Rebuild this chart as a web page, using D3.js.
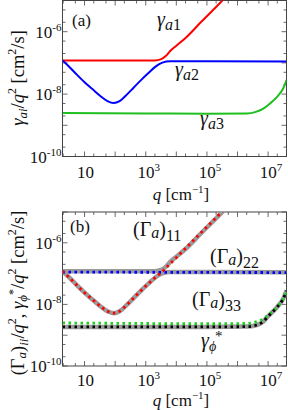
<html>
<head>
<style>
  body { margin: 0; background: #fff; }
  svg { display: block; }
  .frame { fill: none; stroke: #444; stroke-width: 1; }
  .tick { stroke: #444; stroke-width: 0.8; }
  .curve { fill: none; }
</style>
<script src="https://cdn.jsdelivr.net/npm/d3@7"></script>
</head>
<body>
<svg id="svg"></svg>
<script>
var width = 288, height = 410,
    left = 62.5, right = 286.5;

// q in cm^-1, gamma/q^2 in cm^2/s
var qA1 = [1.9, 100, 2000, 3200, 4500, 6300, 1e4, 2e4, 6.3e4, 3.2e5, 4e5];
var gA1 = [1.2e-7, 1.2e-7, 1.2e-7, 1.32e-7, 1.66e-7, 2.4e-7, 3.55e-7, 6.3e-7, 2.0e-6, 1.0e-5, 1.26e-5];

var qA2 = [1.9, 3.2, 5.6, 10, 18, 32, 56, 90, 140, 250, 400, 700, 1250, 2200, 3500, 6300, 1e5, 4e7];
var gA2 = [1.2e-7, 7.4e-8, 4.2e-8, 2.4e-8, 1.45e-8, 8.9e-9, 6.0e-9, 5.2e-9, 6.0e-9, 1.0e-8, 1.6e-8, 2.8e-8, 4.8e-8, 7.9e-8, 1.02e-7, 1.12e-7, 1.12e-7, 1.1e-7];

var qA3 = [1.9, 1000, 1e5, 2e6, 4e6, 7e6, 1.1e7, 2e7, 3.2e7, 4e7];
var gA3 = [2.5e-9, 2.4e-9, 2.35e-9, 2.4e-9, 2.7e-9, 3.4e-9, 4.8e-9, 8.3e-9, 1.6e-8, 2.8e-8];

var q11 = [1.9, 3.2, 5.6, 10, 18, 32, 56, 90, 140, 250, 400, 700, 1250, 2200, 3500, 6300, 1e4, 2e4, 6.3e4, 3.2e5, 4e5];
var G11 = [1.2e-7, 7.4e-8, 4.2e-8, 2.4e-8, 1.45e-8, 8.9e-9, 6.0e-9, 5.2e-9, 6.0e-9, 1.0e-8, 1.6e-8, 2.8e-8, 4.8e-8, 7.9e-8, 1.17e-7, 2.1e-7, 3.3e-7, 6.6e-7, 2.1e-6, 1.05e-5, 1.32e-5];

var q22 = [1.9, 1e4, 4e7];
var G22 = [1.12e-7, 1.1e-7, 1.08e-7];

var qPhi = [1.9, 1e5, 2e6, 4e6, 7e6, 1e7, 2e7, 3.2e7, 4e7];
var gPhi = [1.85e-9, 1.85e-9, 1.9e-9, 2.1e-9, 2.8e-9, 4.1e-9, 8.3e-9, 1.6e-8, 2.8e-8];

var xTicks = [10, 1e3, 1e5, 1e7];
var xTickExp = ["", "3", "5", "7"];
var yTicks = [1e-6, 1e-8, 1e-10];
var yTickExp = ["-6", "-8", "-10"];

var svg = d3.select("#svg").attr("width", width).attr("height", height);

var x = d3.scaleLog().domain([1.9, 4e7]).range([left, right]);

function zip(qs, gs) { return qs.map(function(q, i) { return [q, gs[i]]; }); }

// append a text built from pieces: [text, italic, size, dy]
function rich(g, px, py, parts, anchor, rotate) {
  var t = g.append("text").attr("x", px).attr("y", py)
    .style("font-family", "Liberation Serif")
    .attr("text-anchor", anchor || "start").attr("fill", "#111");
  if (rotate) t.attr("transform", "rotate(-90," + px + "," + py + ")");
  parts.forEach(function(p) {
    t.append("tspan").text(p[0])
      .style("font-family", "Liberation Serif")
      .style("font-style", p[1] ? "italic" : "normal")
      .style("font-size", p[2] + "px")
      .attr("dy", p[3] || 0);
  });
  return t;
}

function isMinor(v) {
  var m = Math.round(v / Math.pow(10, Math.floor(Math.log10(v) + 1e-9)));
  return m === 1 || m === 2 || m === 5;
}
function isMajor(v) {
  return Math.abs(Math.log10(v) - Math.round(Math.log10(v))) < 1e-6;
}

function drawPanel(id, top, bottom, tickBase, xlabBase) {
  var y = d3.scaleLog().domain([1e-10, 1e-5]).range([bottom, top]);
  var g = svg.append("g");

  g.append("clipPath").attr("id", "clip" + id)
    .append("rect").attr("x", left).attr("y", top)
    .attr("width", right - left).attr("height", bottom - top);

  // ticks on all four sides, pointing in
  x.ticks().filter(isMinor).forEach(function(v) {
    var len = isMajor(v) ? 5 : 3;
    g.append("line").attr("class", "tick")
      .attr("x1", x(v)).attr("x2", x(v)).attr("y1", bottom).attr("y2", bottom - len);
    g.append("line").attr("class", "tick")
      .attr("x1", x(v)).attr("x2", x(v)).attr("y1", top).attr("y2", top + len);
  });
  y.ticks().filter(isMinor).forEach(function(v) {
    var len = isMajor(v) ? 5 : 3;
    g.append("line").attr("class", "tick")
      .attr("x1", left).attr("x2", left + len).attr("y1", y(v)).attr("y2", y(v));
    g.append("line").attr("class", "tick")
      .attr("x1", right).attr("x2", right - len).attr("y1", y(v)).attr("y2", y(v));
  });

  g.append("rect").attr("class", "frame")
    .attr("x", left).attr("y", top)
    .attr("width", right - left).attr("height", bottom - top);

  // tick labels
  xTicks.forEach(function(v, i) {
    var parts = [["10", false, 17]];
    if (xTickExp[i]) parts.push([xTickExp[i], false, 11, -7]);
    rich(g, x(v) + (xTickExp[i] ? 3 : 1), tickBase, parts, "middle");
  });
  yTicks.forEach(function(v, i) {
    rich(g, left - 1, y(v) + 6, [["10", false, 17], [yTickExp[i], false, 11, -7]], "end");
  });

  rich(g, 181, xlabBase, [["q", true, 17], [" [cm", false, 17], ["\u22121", false, 11, -7], ["]", false, 17, 7]], "middle");

  var line = d3.line()
    .x(function(d) { return x(d[0]); })
    .y(function(d) { return y(d[1]); })
    .curve(d3.curveMonotoneX);

  var plot = g.append("g").attr("clip-path", "url(#clip" + id + ")");
  return { g: g, plot: plot, y: y, line: line };
}

// ---- panel (a)
var pa = drawPanel("a", 0.5, 156.5, 178, 200);
[[qA1, gA1, "#ff0000"], [qA2, gA2, "#0000ff"], [qA3, gA3, "#1fbf1f"]].forEach(function(s) {
  pa.plot.append("path").attr("class", "curve")
    .attr("d", pa.line(zip(s[0], s[1])))
    .attr("stroke", s[2]).attr("stroke-width", 2);
});

rich(pa.g, 72, 26, [["(a)", false, 17]]);
rich(pa.g, 157, 26, [["\u03b3", true, 20], ["a", true, 16, 4], ["1", false, 16]]);
rich(pa.g, 175, 76, [["\u03b3", true, 20], ["a", true, 16, 4], ["2", false, 16]]);
rich(pa.g, 200, 125, [["\u03b3", true, 20], ["a", true, 16, 4], ["3", false, 16]]);

rich(svg, 24, 78, [["\u03b3", true, 18.5], ["ai", true, 13, 3], ["/", false, 18.5, -3], ["q", true, 18.5],
  ["2", false, 12, -8], [" [cm", false, 18.5, 8], ["2", false, 12, -8], ["/s]", false, 18.5, 8]], "middle", true);

// ---- panel (b)
var pb = drawPanel("b", 212, 366, 386, 406);
[[qA1, gA1], [qA2, gA2], [qPhi, gPhi]].forEach(function(s) {
  pb.plot.append("path").attr("class", "curve")
    .attr("d", pb.line(zip(s[0], s[1])))
    .attr("stroke", "#9a9a9a").attr("stroke-width", 4.5);
});
[[qA3, gA3, "#1fcf1f"], [qPhi, gPhi, "#000000"], [q22, G22, "#0000ff"], [q11, G11, "#ff0000"]].forEach(function(s) {
  pb.plot.append("path").attr("class", "curve")
    .attr("d", pb.line(zip(s[0], s[1])))
    .attr("stroke", s[2]).attr("stroke-width", 2.8)
    .attr("stroke-dasharray", "2.5,3.5");
});

rich(pb.g, 70, 232, [["(b)", false, 17]]);
rich(pb.g, 133, 236, [["(\u0393", false, 20], ["a", true, 16, 2], [")", false, 20, -2], ["11", false, 16, 5]]);
rich(pb.g, 210, 263, [["(\u0393", false, 20], ["a", true, 16, 2], [")", false, 20, -2], ["22", false, 16, 5]]);
rich(pb.g, 192, 306, [["(\u0393", false, 20], ["a", true, 16, 2], [")", false, 20, -2], ["33", false, 16, 5]]);
rich(pb.g, 201, 347, [["\u03b3", true, 20], ["\u03d5", true, 14, 4]]);
rich(pb.g, 215, 341, [["*", false, 15]]);

rich(svg, 24, 293, [["(\u0393", false, 18.5], ["a", true, 13, 2], [")", false, 18.5, -2], ["ii", true, 13, 4],
  ["/", false, 18.5, -4], ["q", true, 18.5], ["2", false, 12, -8], [", ", false, 18.5, 8],
  ["\u03b3", true, 18.5], ["\u03d5", true, 13, 3], ["*", false, 12, -10], ["/", false, 18.5, 7], ["q", true, 18.5],
  ["2", false, 12, -8], [" [cm", false, 18.5, 8], ["2", false, 12, -8], ["/s]", false, 18.5, 8]], "middle", true);
</script>
</body>
</html>
